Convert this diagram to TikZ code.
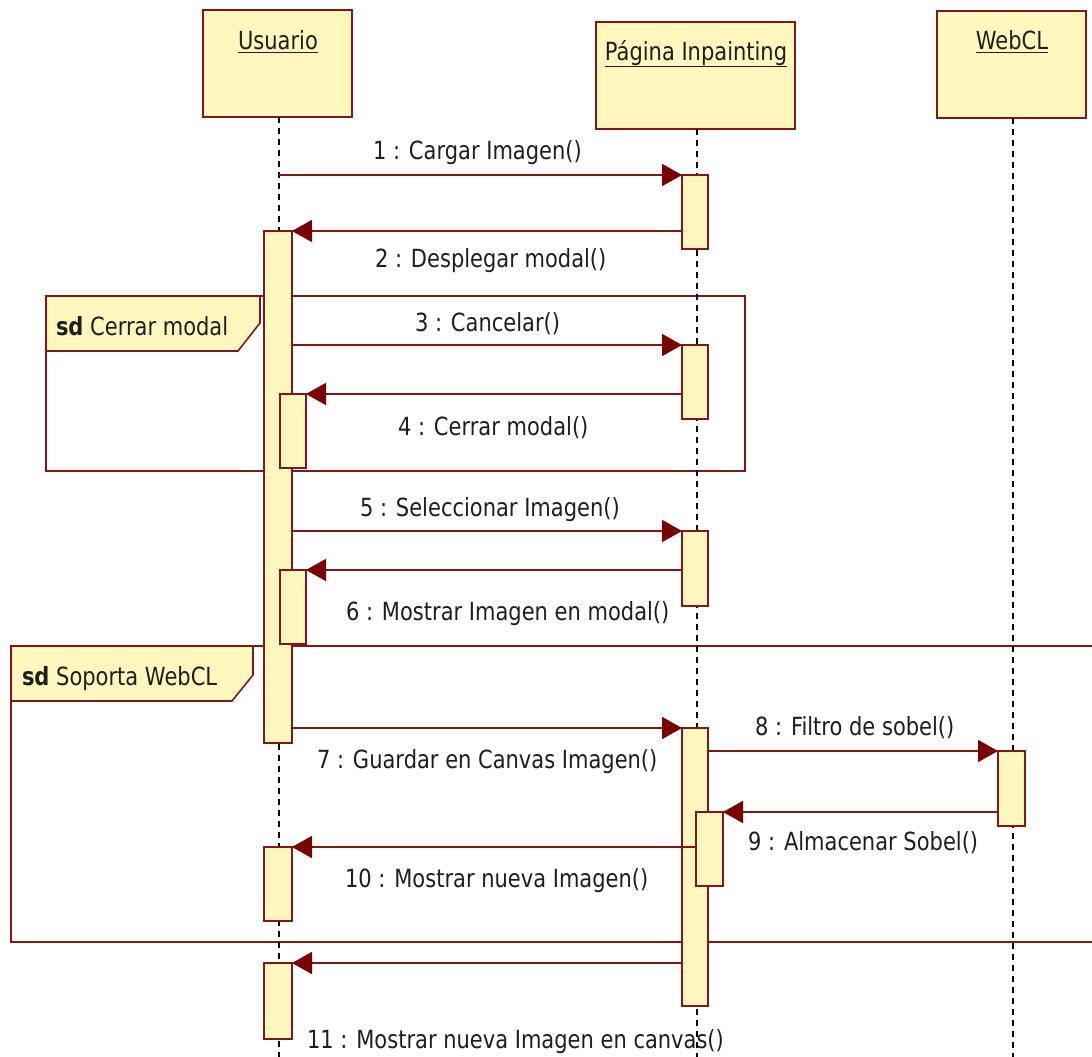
\documentclass[tikz,border=0pt]{standalone}
\usepackage{fontspec}
\setmainfont{DejaVu Sans}[FakeStretch=0.84]
\usetikzlibrary{arrows.meta}
\definecolor{umlfill}{RGB}{255,247,189}
\definecolor{umlline}{RGB}{128,24,24}
\definecolor{umlarrow}{RGB}{120,0,0}
\definecolor{umltext}{RGB}{30,30,30}

\begin{document}
\begin{tikzpicture}[x=1pt,y=-1pt,
  every node/.style={inner sep=0pt, outer sep=0pt},
  txt/.style={font=\fontsize{25}{29}\selectfont, text=umltext, anchor=base west},
  objbox/.style={draw=umlline, fill=umlfill, line width=1.6pt, rectangle, anchor=north west},
  actbar/.style={draw=umlline, fill=umlfill, line width=1.6pt, rectangle, anchor=north west,
                 minimum width=26pt},
  lifeline/.style={draw=black, line width=1.6pt, dash pattern=on 6pt off 5pt},
  framebox/.style={draw=umlline, line width=1.6pt},
  frametab/.style={draw=umlline, fill=umlfill, line width=1.6pt},
  msg/.style={draw=umlline, line width=1.8pt,
              -{Triangle[length=20pt,width=22pt,fill=umlarrow,color=umlarrow]}}
]
\useasboundingbox (0,0) rectangle (1092,1057);
\clip (0,0) rectangle (1092,1057);
\fill[white] (0,0) rectangle (1092,1057);

% combined fragments
\draw[framebox] (46,296) rectangle (745,471);
\draw[frametab] (46,296) -- (260,296) -- (260,323) -- (238,351) -- (46,351) -- cycle;
\node[txt] (fr1) at (56,335) {\textbf{sd} Cerrar modal};

\draw[framebox] (11,646) rectangle (1110,942);
\draw[frametab] (11,646) -- (253,646) -- (253,675) -- (232,701) -- (11,701) -- cycle;
\node[txt] (fr2) at (22,685) {\textbf{sd} Soporta WebCL};

% objects
\node[objbox, minimum width=149pt, minimum height=107pt] (usr) at (203,10) {};
\node[objbox, minimum width=199pt, minimum height=107pt] (pag) at (596,22) {};
\node[objbox, minimum width=149pt, minimum height=107pt] (wcl) at (937,11) {};
\node[txt, anchor=base] (usrt) at (278,50) {\underline{Usuario}};
\node[txt, anchor=base] (pagt) at (696,60) {\underline{Página Inpainting}};
\node[txt, anchor=base] (wclt) at (1012,50) {\underline{WebCL}};

% lifelines
\coordinate (usrend) at (279,1060);
\coordinate (pagend) at (697,1060);
\coordinate (wclend) at (1013,1060);
\draw[lifeline] (usr.south -| usrend) -- (usrend);
\draw[lifeline] (pag.south -| pagend) -- (pagend);
\draw[lifeline] (wcl.south -| wclend) -- (wclend);

% activation bars
\node[actbar, minimum width=28pt, minimum height=512pt] (ubm) at (264,231) {};
\node[actbar, minimum height=74pt] (ub4) at (280,394) {};
\node[actbar, minimum height=74pt] (ub6) at (280,570) {};
\node[actbar, minimum width=28pt, minimum height=74pt] (ub10) at (264,847) {};
\node[actbar, minimum width=28pt, minimum height=76pt] (ub11) at (264,963) {};

\node[actbar, minimum height=74pt] (pb1) at (682,175) {};
\node[actbar, minimum height=74pt] (pb3) at (682,345) {};
\node[actbar, minimum height=75pt] (pb5) at (682,531) {};
\node[actbar, minimum height=278pt] (pbm) at (682,728) {};
\node[actbar, minimum width=27pt, minimum height=74pt] (pb9) at (696,812) {};

\node[actbar, minimum width=27pt, minimum height=75pt] (wb) at (998,751) {};

% messages
\draw[msg] (usrend |- pb1.north) -- (pb1.north west);
\draw[msg] (pb1.west |- ubm.north) -- (ubm.north east);
\draw[msg] (ubm.east |- pb3.north) -- (pb3.north west);
\draw[msg] (pb3.west |- ub4.north) -- (ub4.north east);
\draw[msg] (ubm.east |- pb5.north) -- (pb5.north west);
\draw[msg] (pb5.west |- ub6.north) -- (ub6.north east);
\draw[msg] (ubm.east |- pbm.north) -- (pbm.north west);
\draw[msg] (pbm.east |- wb.north) -- (wb.north west);
\draw[msg] (wb.west |- pb9.north) -- (pb9.north east);
\draw[msg] (pb9.west |- ub10.north) -- (ub10.north east);
\draw[msg] (pbm.west |- ub11.north) -- (ub11.north east);

% message labels
\node[txt] (l1) at (373,159) {1 : Cargar Imagen()};
\node[txt] (l2) at (375,267) {2 : Desplegar modal()};
\node[txt] (l3) at (415,331) {3 : Cancelar()};
\node[txt] (l4) at (398,435) {4 : Cerrar modal()};
\node[txt] (l5) at (360,516) {5 : Seleccionar Imagen()};
\node[txt] (l6) at (346,620) {6 : Mostrar Imagen en modal()};
\node[txt] (l7) at (317,768) {7 : Guardar en Canvas Imagen()};
\node[txt] (l8) at (755,735) {8 : Filtro de sobel()};
\node[txt] (l9) at (748,850) {9 : Almacenar Sobel()};
\node[txt] (l10) at (345,887) {10 : Mostrar nueva Imagen()};
\node[txt] (l11) at (307,1048) {11 : Mostrar nueva Imagen en canvas()};
\end{tikzpicture}
\end{document}
